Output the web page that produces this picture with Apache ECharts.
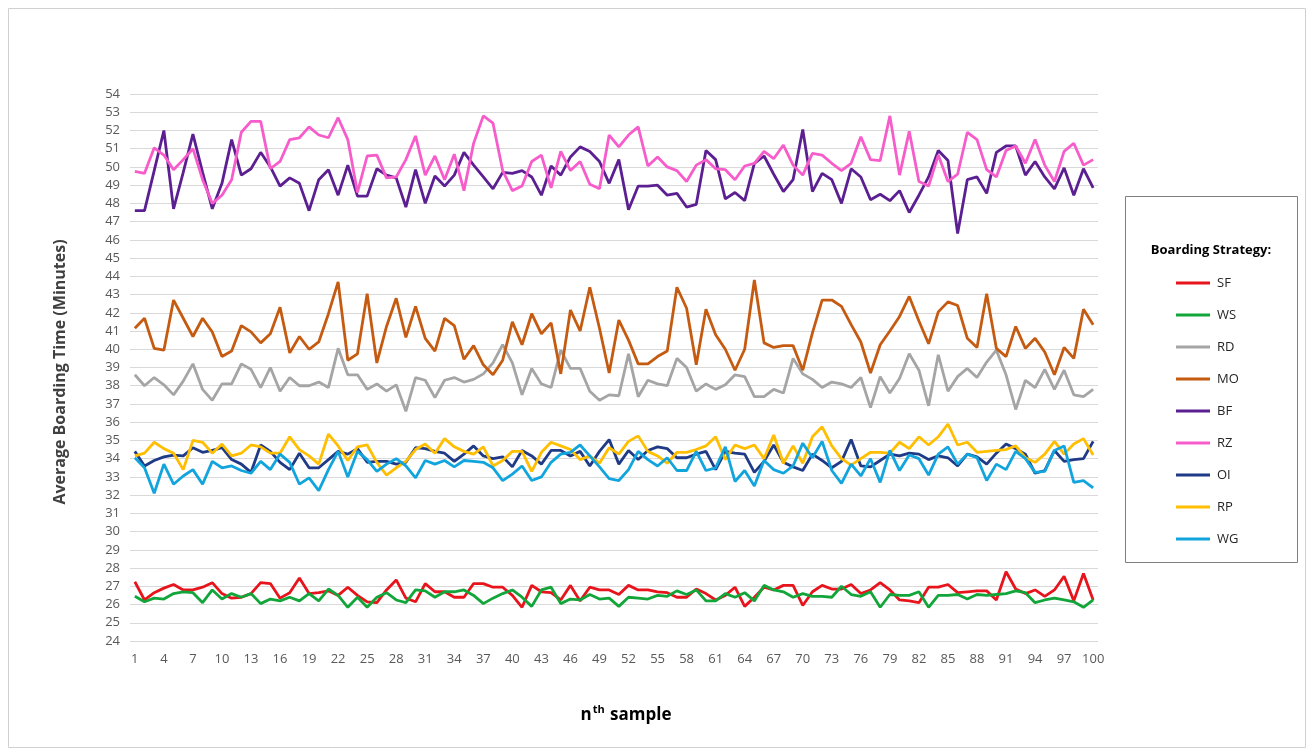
<!DOCTYPE html>
<html><head><meta charset="utf-8">
<script src="https://cdn.jsdelivr.net/npm/echarts@6/dist/echarts.min.js"></script>
<style>html,body{margin:0;padding:0;background:#fff}#c{width:1314px;height:755px}</style>
</head><body><div id="c"></div>
<script>
const samples = []; for (let i = 1; i <= 100; i++) samples.push(String(i));
const seriesNames = ['SF','WS','RD','MO','BF','RZ','OI','RP','WG'];
const SF = [27.25,26.25,26.65,26.9,27.1,26.8,26.8,26.95,27.2,26.6,26.35,26.4,26.6,27.2,27.15,26.35,26.65,27.45,26.6,26.65,26.75,26.5,26.95,26.5,26.15,26.1,26.8,27.35,26.35,26.15,27.15,26.7,26.7,26.4,
 26.4,27.15,27.15,26.95,26.95,26.5,25.85,27.05,26.7,26.65,26.25,27.05,26.2,26.95,26.8,26.8,26.55,27.05,26.8,26.8,26.7,26.65,26.4,26.4,26.85,26.6,26.25,26.5,26.95,25.9,26.4,26.95,26.8,
 27.05,27.05,25.95,26.7,27.05,26.85,26.85,27.1,26.6,26.8,27.2,26.8,26.25,26.2,26.1,26.95,26.95,27.1,26.65,26.7,26.75,26.75,26.25,27.8,26.85,26.6,26.8,26.45,26.8,27.55,26.2,27.7,26.25];
const WS = [26.45,26.15,26.35,26.3,26.6,26.7,26.65,26.1,26.8,26.3,26.6,26.4,26.6,26.05,26.3,26.2,26.4,26.2,26.6,26.2,26.85,26.5,25.85,26.4,25.85,26.4,26.65,26.25,26.1,26.8,26.75,26.4,26.7,26.7,
 26.8,26.5,26.05,26.35,26.6,26.8,26.4,25.9,26.8,26.95,26.05,26.3,26.25,26.55,26.3,26.35,25.9,26.4,26.35,26.3,26.5,26.45,26.75,26.55,26.8,26.2,26.2,26.6,26.4,26.65,26.2,27.05,26.8,
 26.7,26.4,26.6,26.45,26.45,26.4,27.0,26.55,26.45,26.7,25.85,26.55,26.5,26.5,26.7,25.85,26.5,26.5,26.55,26.3,26.55,26.5,26.55,26.6,26.75,26.65,26.1,26.25,26.35,26.25,26.15,25.85,26.25];
const RD = [38.6,38.0,38.45,38.05,37.5,38.25,39.2,37.8,37.2,38.1,38.1,39.2,38.9,37.9,39.0,37.7,38.45,38.0,38.0,38.2,37.9,40.05,38.6,38.6,37.8,38.1,37.7,38.05,36.6,38.45,38.3,37.35,38.3,38.45,
 38.2,38.35,38.65,39.25,40.25,39.25,37.5,38.95,38.1,37.9,39.95,38.95,38.95,37.7,37.2,37.5,37.45,39.75,37.4,38.3,38.1,38.0,39.5,39.0,37.7,38.1,37.8,38.05,38.6,38.5,37.4,37.4,37.8,
 37.6,39.5,38.65,38.35,37.9,38.2,38.1,37.9,38.45,36.8,38.5,37.6,38.4,39.75,38.85,36.9,39.7,37.7,38.5,38.95,38.45,39.3,39.95,38.6,36.7,38.3,37.9,38.9,37.8,38.85,37.5,37.4,37.8];
const MO = [41.15,41.7,40.05,39.95,42.7,41.7,40.7,41.7,40.95,39.6,39.9,41.3,40.95,40.35,40.85,42.3,39.8,40.7,40.0,40.4,41.95,43.7,39.4,39.75,43.05,39.25,41.25,42.8,40.65,42.35,40.6,39.9,41.7,41.3,
 39.45,40.2,39.15,38.6,39.4,41.5,40.25,41.95,40.85,41.45,38.65,42.15,41.0,43.4,41.15,38.7,41.6,40.5,39.2,39.2,39.6,39.9,43.4,42.25,39.15,42.2,40.8,40.0,38.85,40.0,43.8,40.35,40.1,
 40.2,40.2,38.85,40.9,42.7,42.7,42.35,41.35,40.4,38.7,40.25,41.0,41.8,42.9,41.55,40.3,42.05,42.6,42.4,40.6,40.1,43.05,40.05,39.6,41.25,40.05,40.6,39.85,38.6,40.1,39.5,42.2,41.35];
const BF = [47.6,47.6,49.8,52.0,47.7,49.7,51.8,49.7,47.7,49.1,51.5,49.55,49.9,50.8,50.0,48.95,49.4,49.1,47.6,49.3,49.85,48.45,50.1,48.4,48.4,49.9,49.55,49.4,47.8,49.85,48.0,49.5,48.95,49.55,
 50.8,50.1,49.45,48.8,49.7,49.65,49.8,49.45,48.45,50.05,49.55,50.55,51.1,50.85,50.3,49.1,50.4,47.65,48.95,48.95,49.0,48.45,48.55,47.8,47.95,50.9,50.4,48.25,48.6,48.15,50.2,50.6,49.6,
 48.65,49.3,52.05,48.65,49.65,49.3,48.0,49.9,49.45,48.2,48.5,48.15,48.7,47.5,48.45,49.45,50.9,50.35,46.35,49.3,49.45,48.55,50.8,51.15,51.15,49.55,50.3,49.45,48.8,49.95,48.45,49.9,48.85];
const RZ = [49.75,49.65,51.05,50.65,49.85,50.4,51.0,49.3,48.0,48.45,49.3,51.9,52.5,52.5,49.9,50.3,51.5,51.6,52.2,51.75,51.6,52.7,51.5,48.6,50.6,50.65,49.4,49.45,50.4,51.7,49.55,50.6,49.3,50.7,
 48.7,51.3,52.8,52.4,49.8,48.7,48.95,50.3,50.65,48.85,50.85,49.8,50.3,49.05,48.8,51.75,51.1,51.75,52.2,50.05,50.55,50.0,49.8,49.2,50.1,50.4,49.9,49.85,49.3,50.05,50.2,50.85,50.45,
 51.2,50.1,49.55,50.75,50.65,50.2,49.8,50.2,51.65,50.4,50.35,52.8,49.55,51.95,49.2,48.95,50.65,49.2,49.6,51.9,51.5,49.85,49.45,50.9,51.15,50.2,51.5,50.1,49.2,50.85,51.3,50.1,50.4];
const OI = [34.4,33.6,33.9,34.1,34.2,34.15,34.6,34.35,34.45,34.6,33.95,33.7,33.25,34.75,34.4,33.8,33.4,34.3,33.5,33.5,33.95,34.4,34.25,34.55,33.8,33.85,33.85,33.7,33.8,34.6,34.55,34.4,34.3,33.85,
 34.25,34.7,34.15,34.0,34.1,33.55,34.45,34.15,33.7,34.45,34.45,34.15,34.4,33.6,34.4,35.05,33.7,34.45,33.95,34.45,34.65,34.55,34.05,34.05,34.25,34.4,33.4,34.4,34.3,34.25,33.25,33.85,34.75,
 33.8,33.55,33.35,34.25,33.9,33.5,33.85,35.05,33.6,33.55,33.9,34.25,34.15,34.3,34.25,33.95,34.15,34.05,33.6,34.25,34.1,33.7,34.3,34.8,34.55,34.25,33.2,33.35,34.45,33.85,33.95,34.0,34.95];
const RP = [34.15,34.3,34.9,34.55,34.3,33.4,35.0,34.9,34.3,34.8,34.15,34.3,34.75,34.65,34.3,34.3,35.2,34.5,34.15,33.7,35.35,34.7,33.9,34.65,34.75,33.8,33.1,33.5,33.85,34.5,34.8,34.3,35.1,34.65,
 34.4,34.25,34.65,33.6,33.9,34.4,34.4,33.3,34.35,34.9,34.7,34.5,33.95,34.15,33.75,34.6,34.25,34.95,35.25,34.4,34.15,33.75,34.35,34.35,34.5,34.7,35.2,33.95,34.75,34.55,34.75,34.0,35.3,
 33.75,34.7,33.75,35.2,35.75,34.7,34.0,33.65,34.0,34.35,34.35,34.3,34.9,34.55,35.2,34.75,35.2,35.9,34.75,34.9,34.35,34.4,34.45,34.5,34.7,34.05,33.8,34.25,34.95,34.25,34.8,35.1,34.2];
const WG = [34.05,33.5,32.1,33.7,32.6,33.05,33.4,32.6,33.85,33.5,33.6,33.35,33.2,33.85,33.4,34.25,33.8,32.6,32.95,32.25,33.4,34.4,33.0,34.4,33.95,33.3,33.7,34.0,33.6,32.95,33.9,33.7,33.9,33.55,
 33.9,33.85,33.8,33.5,32.8,33.15,33.6,32.8,33.0,33.8,34.25,34.35,34.75,34.15,33.55,32.9,32.8,33.4,34.4,33.95,33.6,34.05,33.35,33.35,34.4,33.35,33.5,34.65,32.75,33.35,32.5,33.9,33.4,
 33.2,33.6,34.85,34.05,34.95,33.35,32.65,33.7,33.05,34.0,32.7,34.45,33.35,34.2,34.0,33.1,34.25,34.65,33.7,34.25,34.05,32.8,33.7,33.4,34.4,34.0,33.25,33.3,34.45,34.7,32.7,32.8,32.4];

const values = {SF, WS, RD, MO, BF, RZ, OI, RP, WG};
const colors = {SF:'#e8141c', WS:'#12a539', RD:'#a5a5a5', MO:'#c55a11', BF:'#5b1f91', RZ:'#f75ccb', OI:'#1f3a86', RP:'#ffbe00', WG:'#12a4dc'};
const FONT = '"Open Sans", "Noto Sans", sans-serif';

const chart = echarts.init(document.getElementById('c'), null, {renderer:'canvas'});

chart.setOption({
  animation: false,
  textStyle: {fontFamily: FONT},
  grid: {left: 130, right: 216, top: 94, bottom: 114},
  xAxis: {
    type: 'category', data: samples, boundaryGap: true,
    axisLine: {show: false}, axisTick: {show: false},
    axisLabel: {interval: 2, color: '#595959', fontSize: 13, margin: 12, fontFamily: FONT},
    splitLine: {show: false}
  },
  yAxis: {
    type: 'value', min: 24, max: 54, interval: 1,
    axisLine: {show: false}, axisTick: {show: false},
    axisLabel: {color: '#595959', fontSize: 13, margin: 10, fontFamily: FONT},
    splitLine: {show: true, lineStyle: {color: '#d9d9d9', width: 1}}
  },
  legend: {
    orient: 'vertical', left: 1171, top: 271,
    icon: 'rect', itemWidth: 34, itemHeight: 3, itemGap: 18,
    textStyle: {color: '#262626', fontSize: 13, lineHeight: 14, height: 14, fontFamily: FONT, padding: [0,0,0,2]},
    data: seriesNames
  },
  series: seriesNames.map(n => ({
    name: n, type: 'line', data: values[n], symbol: 'none', showSymbol: false,
    lineStyle: {color: colors[n], width: 2.8}, itemStyle: {color: colors[n]},
    emphasis: {disabled: true}
  })),
  graphic: [
    {type: 'rect', shape: {x: 8.5, y: 8.5, width: 1297, height: 739}, style: {fill: 'none', stroke: '#d0d0d0', lineWidth: 1}, silent: true},
    {type: 'rect', shape: {x: 1125.5, y: 196.5, width: 172, height: 366}, style: {fill: 'none', stroke: '#7f7f7f', lineWidth: 1}, silent: true},
    {type: 'text', x: 1211, y: 250, style: {text: 'Boarding Strategy:', fill: '#000', font: 'bold 13px ' + FONT, align: 'center', verticalAlign: 'middle'}},
    {type: 'text', x: 60, y: 372, rotation: Math.PI/2, style: {text: 'Average Boarding Time (Minutes)', fill: '#404040', font: 'bold 16px ' + FONT, align: 'center', verticalAlign: 'middle'}},
    {type: 'text', x: 626, y: 715, style: {
      text: '{n|n}{s|th}{n| sample}', align: 'center', verticalAlign: 'middle',
      rich: {n: {fontSize: 17, fontWeight: 'bold', color: '#404040', fontFamily: FONT, lineHeight: 22},
             s: {fontSize: 11, fontWeight: 'bold', color: '#404040', fontFamily: FONT, lineHeight: 22, verticalAlign: 'top', padding: [0,1,10,1]}}
    }}
  ]
});
</script></body></html>
